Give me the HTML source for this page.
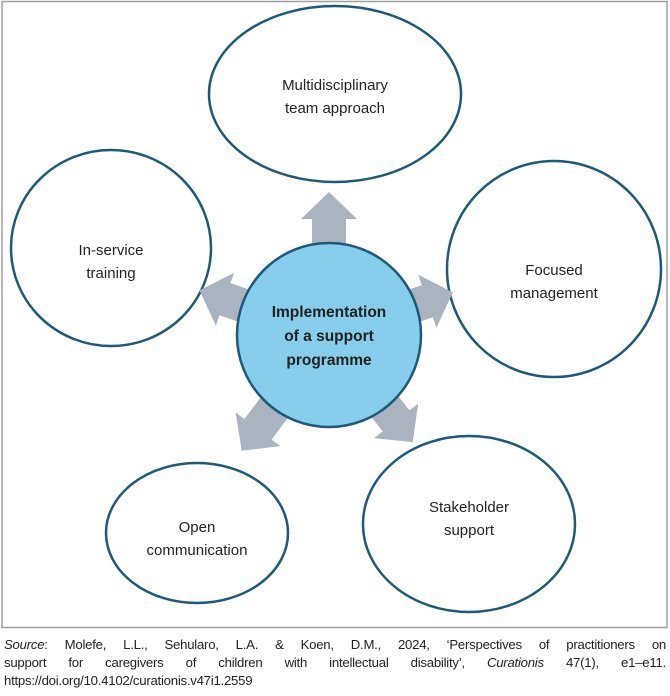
<!DOCTYPE html>
<html><head><style>
body{margin:0;width:670px;height:696px;background:#fff;font-family:"Liberation Sans",sans-serif;position:relative;overflow:hidden}
.cap{position:absolute;left:4px;top:636px;width:662px;font-size:13.2px;line-height:18px;color:#222;letter-spacing:-0.25px}
.j{text-align:justify;text-align-last:justify;white-space:nowrap}
</style></head><body>
<svg width="670" height="634" style="position:absolute;left:0;top:0" font-family="Liberation Sans, sans-serif">
<rect x="2" y="1.5" width="665" height="626" fill="#fff" stroke="#a0a0a0" stroke-width="1.5"/>
<g fill="none" stroke="#1d5a7a" stroke-width="2.5">
<ellipse cx="335" cy="94" rx="126" ry="88"/>
<ellipse cx="111" cy="248" rx="100" ry="98"/>
<ellipse cx="554" cy="269" rx="107" ry="108"/>
<ellipse cx="197" cy="533" rx="91" ry="70"/>
<ellipse cx="469" cy="524" rx="106" ry="88"/>
</g>
<g fill="#a9b4c0" transform="translate(329,335)">
<polygon points="-17,-80 -17,-116 -28,-116 0,-143 28,-116 17,-116 17,-80"/>
<polygon transform="rotate(-71)" points="-17,-80 -17,-110 -28,-110 0,-137 28,-110 17,-110 17,-80"/>
<polygon transform="rotate(71)" points="-17,-80 -17,-104 -28,-104 0,-131 28,-104 17,-104 17,-80"/>
<polygon transform="rotate(-143)" points="-17,-80 -17,-118 -28,-118 0,-145 28,-118 17,-118 17,-80"/>
<polygon transform="rotate(142)" points="-17,-80 -17,-109 -28,-109 0,-136 28,-109 17,-109 17,-80"/>
</g>
<circle cx="329" cy="335" r="92" fill="#86ceeb" stroke="#1d5a7a" stroke-width="2.5"/>
<g font-size="15.5" font-weight="bold" fill="#222" text-anchor="middle">
<text x="329" y="317">Implementation</text>
<text x="329" y="341">of a support</text>
<text x="329" y="365">programme</text>
</g>
<g font-size="15" fill="#222" text-anchor="middle">
<text x="335" y="90">Multidisciplinary</text><text x="335" y="113">team approach</text>
<text x="111" y="255">In-service</text><text x="111" y="278">training</text>
<text x="554" y="275">Focused</text><text x="554" y="298">management</text>
<text x="197" y="532">Open</text><text x="197" y="555">communication</text>
<text x="469" y="512">Stakeholder</text><text x="469" y="535">support</text>
</g>
</svg>
<div class="cap">
<div class="j"><i>Source</i>: Molefe, L.L., Sehularo, L.A. &amp; Koen, D.M., 2024, ‘Perspectives of practitioners on</div>
<div class="j">support for caregivers of children with intellectual disability’, <i>Curationis</i> 47(1), e1–e11.</div>
<div>https://doi.org/10.4102/curationis.v47i1.2559</div>
</div>
</body></html>
